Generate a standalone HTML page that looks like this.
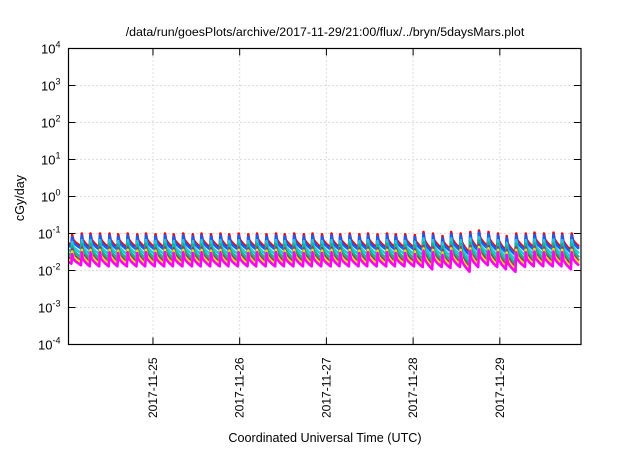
<!DOCTYPE html>
<html><head><meta charset="utf-8"><style>
body{margin:0;background:#fff;}
svg{font-family:"Liberation Sans",sans-serif;}
</style></head><body>
<svg id="chart" width="640" height="448">
<rect width="640" height="448" fill="#fff"/>
<text x="325" y="36" font-size="12.4" text-anchor="middle">/data/run/goesPlots/archive/2017-11-29/21:00/flux/../bryn/5daysMars.plot</text>
<text x="325" y="442" font-size="12.6" text-anchor="middle">Coordinated Universal Time (UTC)</text>
<text transform="translate(24,198) rotate(-90)" font-size="12.6" text-anchor="middle">cGy/day</text>
<g id="grid"></g><g id="series"></g><g id="axes"></g>
</svg>
<script>
const xTickLabels=["2017-11-25","2017-11-26","2017-11-27","2017-11-28","2017-11-29"];
const xTickDays=[1,2,3,4,5];
const yTickExps=[-4,-3,-2,-1,0,1,2,3,4];
const cycleTimes=[0.06,0.17,0.27,0.38,0.49,0.59,0.70,0.81,0.91,1.02,1.13,1.23,1.34,1.45,1.55,1.66,1.77,1.87,1.98,2.09,2.19,2.30,2.41,2.51,2.62,2.73,2.83,2.94,3.05,3.15,3.26,3.37,3.47,3.58,3.69,3.79,3.90,4.01,4.11,4.22,4.33,4.43,4.54,4.65,4.75,4.86,4.97,5.07,5.18,5.29,5.39,5.50,5.61,5.71,5.82];
const redPeaks=[0.09,0.1,0.1,0.1,0.1,0.095,0.1,0.095,0.1,0.095,0.1,0.095,0.1,0.095,0.1,0.095,0.1,0.095,0.1,0.095,0.1,0.095,0.1,0.095,0.1,0.095,0.1,0.095,0.1,0.095,0.1,0.095,0.1,0.095,0.1,0.095,0.095,0.09,0.11,0.1,0.085,0.11,0.1,0.11,0.12,0.11,0.1,0.085,0.1,0.1,0.105,0.1,0.105,0.1,0.1];
const redTroughs=[0.045,0.042,0.042,0.042,0.042,0.042,0.042,0.042,0.042,0.042,0.042,0.042,0.042,0.042,0.042,0.042,0.042,0.042,0.042,0.042,0.042,0.042,0.042,0.042,0.042,0.042,0.042,0.042,0.042,0.042,0.042,0.042,0.042,0.042,0.042,0.042,0.042,0.04,0.035,0.04,0.038,0.04,0.03,0.04,0.045,0.04,0.035,0.03,0.04,0.042,0.042,0.042,0.042,0.035,0.04];
const seriesNames=["red","blue","cyan","teal","purple","yellow","magenta"];
const seriesColors=["#ff0000","#1060ff","#20c8e0","#10b888","#904070","#e8e800","#ff00ff"];
const seriesScale=[1,0.88,0.66,0.52,0.42,0.36,0.31];
const x0=68.5,x1=581,y0=48.5,y1=344.5,d0=0.026,d1=5.936;
const xs=d=>x0+(d-d0)/(d1-d0)*(x1-x0);
const ys=v=>y1-(Math.log10(v)+4)/8*(y1-y0);
const NS="http://www.w3.org/2000/svg";
const mk=(t,a,p)=>{const e=document.createElementNS(NS,t);for(const k in a)e.setAttribute(k,a[k]);p.appendChild(e);return e;};
const grid=document.getElementById('grid'),axes=document.getElementById('axes'),ser=document.getElementById('series');
yTickExps.forEach(e=>{const y=ys(Math.pow(10,e));
 if(e>-4&&e<4){const g=mk('line',{x1:x0,x2:x1,y1:y,y2:y,stroke:'#bbb','stroke-dasharray':'1,3'},grid);
 
 }
 mk('line',{x1:x0,x2:x0+7,y1:y,y2:y,stroke:'#000'},axes);
 mk('line',{x1:x1,x2:x1-7,y1:y,y2:y,stroke:'#000'},axes);
 const t=mk('text',{x:x0-8,y:y+5,'font-size':13,'text-anchor':'end'},axes);
 
 
 t.textContent='10';const s=mk('tspan',{dy:-6,'font-size':9},t);s.textContent=e;});
xTickDays.forEach((d,i)=>{const x=xs(d);
 const g=mk('line',{x1:x,x2:x,y1:y0,y2:y1,stroke:'#bbb','stroke-dasharray':'1,3'},grid);
 
 
 mk('line',{x1:x,x2:x,y1:y1,y2:y1-7,stroke:'#000'},axes);
 mk('line',{x1:x,x2:x,y1:y0,y2:y0+7,stroke:'#000'},axes);
 const t=mk('text',{transform:`translate(${x+4},${y1+13}) rotate(-90)`,'font-size':12,'text-anchor':'end'},axes);
 
 
 t.textContent=xTickLabels[i];});
const fr=mk('rect',{x:x0,y:y0,width:x1-x0,height:y1-y0,fill:'none',stroke:'#000','stroke-width':1.2},axes);


seriesNames.forEach((n,si)=>{
 let pts=[];const sc=seriesScale[si];
 pts.push([xs(d0),ys(redPeaks[0]*0.6*sc)]);
 cycleTimes.forEach((t,i)=>{
  const prevT=i>0?redTroughs[i-1]:redPeaks[0]*0.55;
  pts.push([xs(t),ys(prevT*sc)]);
  pts.push([xs(t)+0.8,ys(redPeaks[i]*sc)]);
  const tn=i+1<cycleTimes.length?cycleTimes[i+1]:d1;
  const tr=redTroughs[i];
  for(let k=1;k<=4;k++){const f=k/5;const tt=t+(tn-t)*f;
   const v=redPeaks[i]*Math.pow(tr/redPeaks[i],Math.sqrt(f));
   pts.push([xs(tt),ys(v*sc)]);}
 });
 const p=mk('polyline',{points:pts.filter(q=>q[0]<=x1).map(q=>q[0].toFixed(1)+','+q[1].toFixed(1)).join(' '),fill:'none',stroke:seriesColors[si],'stroke-width':2.6,'stroke-linejoin':'round'},ser);
 
 
});
</script>
</body></html>
